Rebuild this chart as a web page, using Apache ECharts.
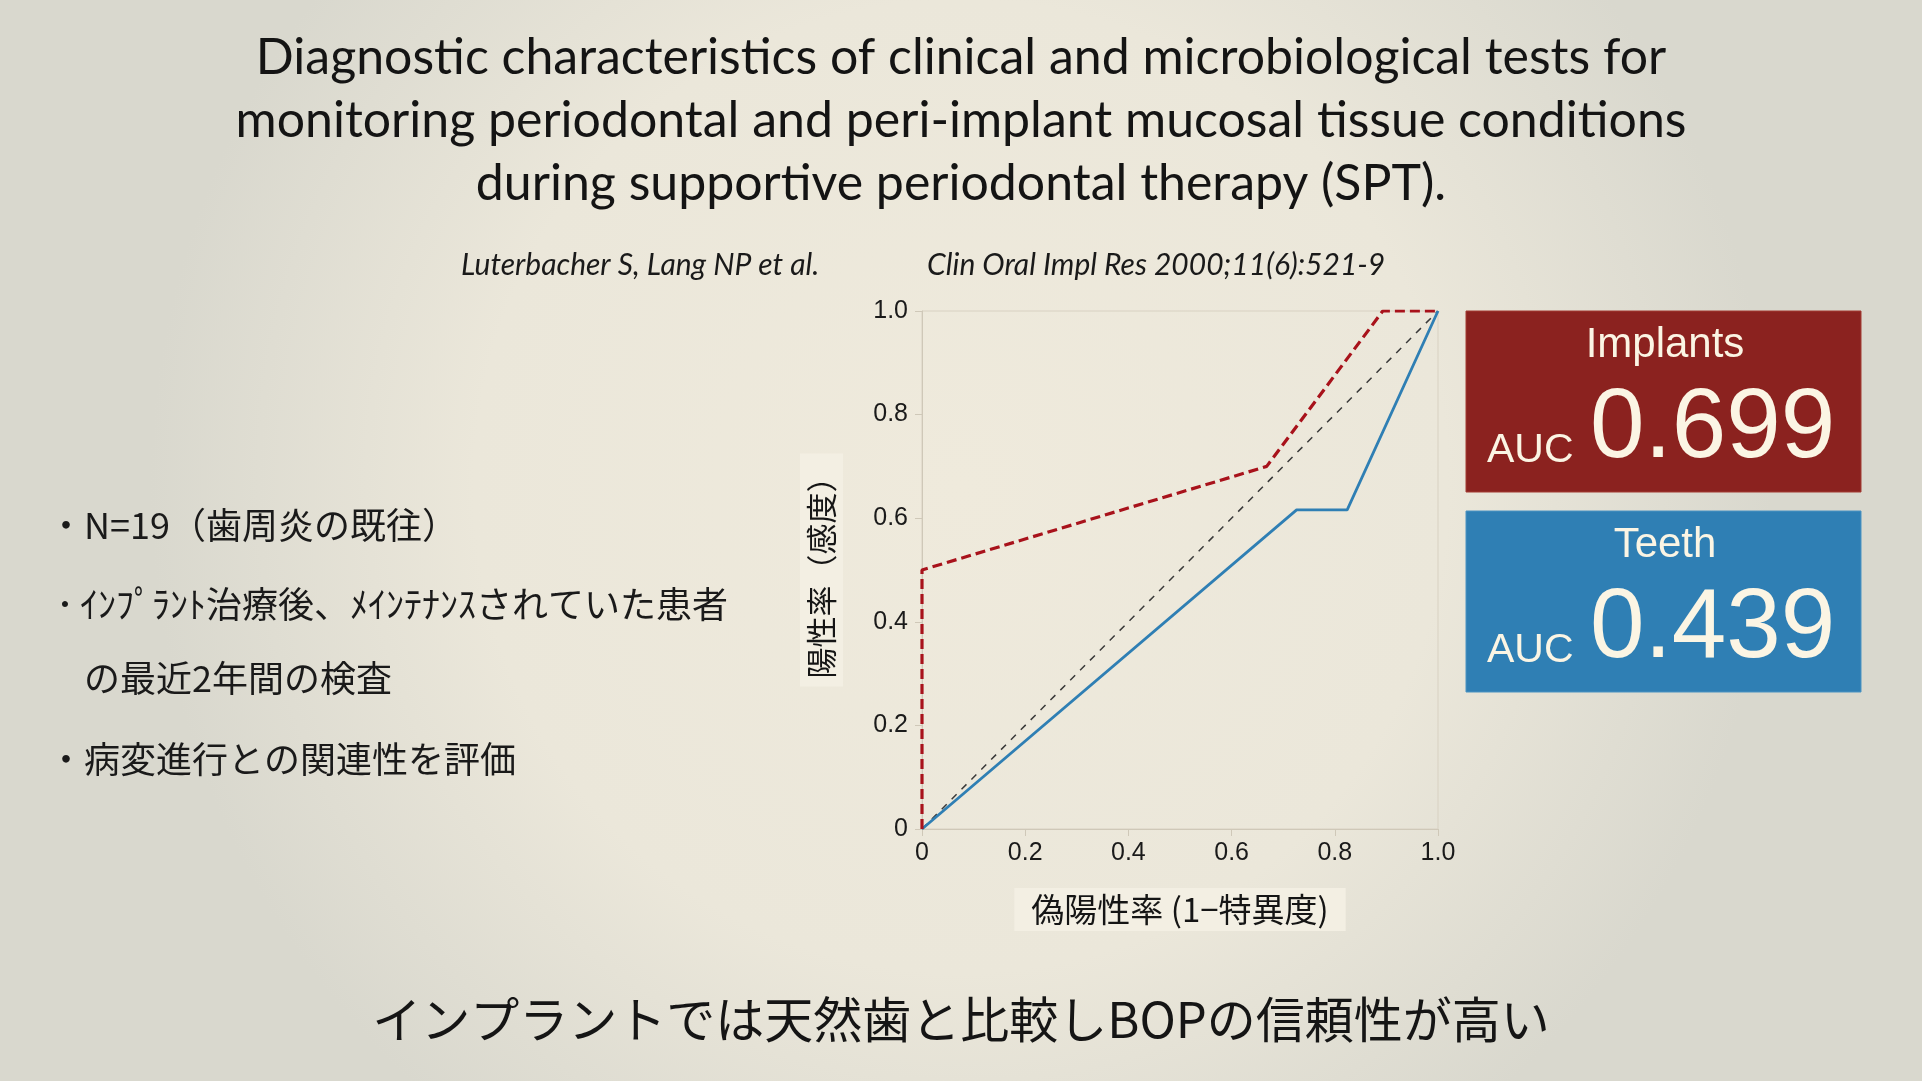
<!DOCTYPE html>
<html>
<head>
<meta charset="utf-8">
<script src="https://cdn.jsdelivr.net/npm/echarts@6/dist/echarts.min.js"></script>
<style>
html,body{margin:0;padding:0;width:1922px;height:1081px;overflow:hidden;background:#e8e5da;}
#chart{width:1922px;height:1081px;}
</style>
</head>
<body>
<div id="chart"></div>
<script>
// ---- data ----
const titleLines = [
  'Diagnostic characteristics of clinical and microbiological tests for',
  'monitoring periodontal and peri-implant mucosal tissue conditions',
  'during supportive periodontal therapy (SPT).'
];
const citeAuthors = 'Luterbacher S, Lang NP et al.';
const citeJournal = 'Clin Oral Impl Res 2000;11(6):521-9';
const bulletLines = ['N=19（歯周炎の既往）', 'ｲﾝﾌﾟﾗﾝﾄ治療後、ﾒｲﾝﾃﾅﾝｽされていた患者', 'の最近2年間の検査', '病変進行との関連性を評価'];
const conclusion = 'インプラントでは天然歯と比較しBOPの信頼性が高い';
const xAxisName = '偽陽性率 (1−特異度)';
const yAxisName = '陽性率（感度）';
const axisTicks = [0, 0.2, 0.4, 0.6, 0.8, 1.0];
// ROC curves: [false positive rate, sensitivity]
const implantsFPR = [0, 0, 0.668, 0.893, 1.0];
const implantsTPR = [0, 0.50, 0.700, 1.0, 1.0];
const teethFPR = [0, 0.726, 0.824, 1.0];
const teethTPR = [0, 0.616, 0.616, 1.0];
const chanceFPR = [0, 1];
const chanceTPR = [0, 1];
const groups = ['Implants', 'Teeth'];
const aucValues = ['0.699', '0.439'];

const zip = (a, b) => a.map((v, i) => [v, b[i]]);

const chart = echarts.init(document.getElementById('chart'));
const cream = '#fbf5e4';
const axisCol = '#cfc8b8';
const tickFont = '"Liberation Sans Narrow", "Liberation Sans", Arial, sans-serif';
const jp = '"Noto Sans CJK JP", sans-serif';
const sans = '"Liberation Sans", Arial, sans-serif';

const graphics = [];
const titleY = [58, 121, 184];
titleLines.forEach((t, i) => {
  graphics.push({type:'text', x:961, y:titleY[i], style:{text:t, font:'50px Lato, sans-serif', fill:'#141414', textAlign:'center', verticalAlign:'middle'}});
});
graphics.push({type:'text', x:461, y:265, style:{text:citeAuthors, font:'italic 30px Lato, sans-serif', fill:'#1a1a1a', verticalAlign:'middle'}});
graphics.push({type:'text', x:927, y:265, style:{text:citeJournal, font:'italic 30px Lato, sans-serif', fill:'#1a1a1a', verticalAlign:'middle'}});
// bullets
const bulletY = [525, 604, 678, 759];
const bulletMark = ['・', '･', '', '・'];
const bulletMarkX = [48, 56, 0, 48];
const bulletTextX = [84, 80, 84, 84];
bulletLines.forEach((t, i) => {
  if (bulletMark[i]) graphics.push({type:'text', x:bulletMarkX[i], y:bulletY[i], style:{text:bulletMark[i], font:'36px ' + jp, fill:'#1a1a1a', verticalAlign:'middle'}});
  graphics.push({type:'text', x:bulletTextX[i], y:bulletY[i], style:{text:t, font:'36px ' + jp, fill:'#1a1a1a', verticalAlign:'middle'}});
});
graphics.push({type:'text', x:961, y:1019, style:{text:conclusion, font:'49px ' + jp, fill:'#151515', textAlign:'center', verticalAlign:'middle'}});
// AUC boxes
const boxTop = [311, 511];
const boxFill = ['#8b221f', '#2f7fb4'];
groups.forEach((g, i) => {
  const y0 = boxTop[i];
  graphics.push({type:'rect', shape:{x:1466, y:y0, width:395, height:181}, style:{fill:boxFill[i], stroke: i===0 ? '#a33a33' : '#4a93c2', lineWidth:1}});
  graphics.push({type:'text', x:1665, y:y0 + 34, style:{text:g, font:'42px ' + sans, fill:cream, textAlign:'center', verticalAlign:'middle'}});
  graphics.push({type:'text', x:1487, y:y0 + 140, style:{text:'AUC', font:'41px ' + sans, fill:cream, verticalAlign:'middle'}});
  graphics.push({type:'text', x:1590, y:y0 + 119, style:{text:aucValues[i], font:'98px ' + sans, fill:cream, verticalAlign:'middle'}});
});

const option = {
  backgroundColor: {type:'radial', x:0.5, y:0.45, r:0.75, colorStops:[{offset:0, color:'#efeadc'}, {offset:0.6, color:'#ebe7da'}, {offset:1, color:'#d9d8ce'}]},
  animation: false,
  grid: {left:922, top:311, width:516, height:518, show:true, borderColor:'#d8d1c2', borderWidth:1, backgroundColor:'transparent'},
  xAxis: {
    type:'value', min:0, max:1, interval:0.2,
    name: xAxisName, nameLocation:'middle', nameGap:59,
    nameTextStyle:{fontFamily:jp, fontSize:33, color:'#151515', backgroundColor:'#f3efe3', padding:[5,17,5,17]},
    axisLine:{show:true, lineStyle:{color:axisCol, width:1}},
    axisTick:{show:true, length:7, lineStyle:{color:axisCol}},
    splitLine:{show:false},
    axisLabel:{fontFamily:tickFont, fontSize:25, color:'#1a1a1a', margin:12,
      formatter: v => v === 0 ? '0' : v.toFixed(1)}
  },
  yAxis: {
    type:'value', min:0, max:1, interval:0.2,
    name: yAxisName, nameLocation:'middle', nameGap:79, nameRotate:90,
    nameTextStyle:{fontFamily:jp, fontSize:31, color:'#151515', backgroundColor:'#f3efe3', padding:[6,8,6,8]},
    axisLine:{show:true, lineStyle:{color:axisCol, width:1}},
    axisTick:{show:true, length:7, lineStyle:{color:axisCol}},
    splitLine:{show:false},
    axisLabel:{fontFamily:tickFont, fontSize:25, color:'#1a1a1a', margin:14,
      formatter: v => v === 0 ? '0' : v.toFixed(1)}
  },
  series: [
    {type:'line', name:'chance', data: zip(chanceFPR, chanceTPR), symbol:'none', lineStyle:{color:'#3a3a3a', width:1.5, type:[7,7]}},
    {type:'line', name:'Teeth', data: zip(teethFPR, teethTPR), symbol:'none', lineStyle:{color:'#2f7fb4', width:2.8}},
    {type:'line', name:'Implants', data: zip(implantsFPR, implantsTPR), symbol:'none', lineStyle:{color:'#a8121b', width:3.2, type:[10,5]}}
  ],
  graphic: graphics
};
chart.setOption(option);
</script>
</body>
</html>
